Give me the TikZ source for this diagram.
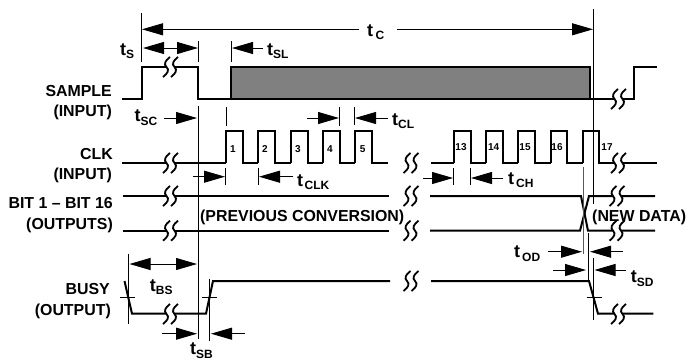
\documentclass[tikz,border=0pt]{standalone}
\usepackage{fontspec}
\setmainfont{Liberation Sans}
\usetikzlibrary{arrows.meta}

\newcommand{\tsub}[2][0pt]{t\kern#1\raisebox{-3.5pt}{\fontsize{12}{13}\selectfont #2}}

\tikzset{
  wave/.style={line width=2pt, line join=miter},
  guide/.style={line width=0.9pt},
  guidegray/.style={line width=1.3pt, black!65},
  dimarrow/.style={line width=0.9pt, {Triangle[length=21pt,width=12pt]}-{Triangle[length=21pt,width=12pt]}},
  dimto/.style={line width=0.9pt, -{Triangle[length=21pt,width=12pt]}},
  siglabel/.style={anchor=east, inner sep=0pt, font=\fontsize{15.9}{17}\bfseries\selectfont},
  notelabel/.style={anchor=west, inner sep=0pt, font=\fontsize{15.9}{17}\bfseries\selectfont},
  timelabel/.style={anchor=base west, inner sep=0pt, font=\fontsize{18}{20}\bfseries\selectfont},
  pulsenum/.style={inner sep=0pt, font=\fontsize{10}{11}\bfseries\selectfont},
  wavebreak/.pic={
    \fill[white] (-4,-6) rectangle (4,6);
    \foreach \dx in {-4,4} {
      \draw[line width=1.8pt] (\dx+3.5,-10) .. controls (\dx-1.5,-6) and (\dx-3,-3) .. (\dx,0)
        .. controls (\dx+3,3) and (\dx+1.5,6) .. (\dx-3.5,10);
    }
  }
}

\begin{document}
\begin{tikzpicture}[x=1pt,y=-1pt]
\useasboundingbox (0,0) rectangle (688,362);

% SAMPLE
\fill[black!50] (231,66.5) rectangle (590,99);
\draw[wave] (122,99) -- (141.5,99) -- (141.5,66.5) -- (198,66.5) -- (198,99) -- (231,99)
  -- (231,66.5) -- (590,66.5) -- (590,99) -- (231,99);
\draw[wave] (590,99) -- (634,99) -- (634,66.5) -- (657,66.5);

% CLK
\draw[wave] (122,163) -- (226,163);
\foreach \a/\b/\c in {226/243/258, 258/275/290.7, 290.7/307.7/323, 323/340/354.7, 354.7/371.7/388} {
  \draw[wave] (\a,163) -- (\a,131) -- (\b,131) -- (\b,163) -- (\c,163);
}
\draw[wave] (431,163) -- (454,163);
\foreach \a/\b/\c in {454/470.7/485.7, 485.7/503/518, 518/535/550.7, 550.7/567/583, 583/599/657} {
  \draw[wave] (\a,163) -- (\a,131) -- (\b,131) -- (\b,163) -- (\c,163);
}
\foreach \x/\n in {233/1, 265/2, 298/3, 330/4, 362.7/5} {
  \node[pulsenum] (pulse\n) at (\x,149) {\n};
}
\foreach \x/\n in {461/13, 493.7/14, 525/15, 557/16, 607/17} {
  \node[pulsenum] (pulse\n) at (\x,147) {\n};
}

% BIT 1 - BIT 16
\draw[wave] (122.7,196) -- (388.7,196);
\draw[wave] (122.7,230.7) -- (388.7,230.7);
\draw[wave] (430,196) -- (581,196) -- (588,230.7) -- (655,230.7);
\draw[wave] (430,230.7) -- (580,230.7) -- (589,196) -- (655,196);

% BUSY
\draw[wave] (124.5,281) -- (132,313.7) -- (206,313.7) -- (213,281) -- (390,281);
\draw[wave] (431,281) -- (589,281) -- (598,313.7) -- (653.3,313.7);

% breaks
\foreach \x/\y in {170.5/67, 170.5/163, 170.5/196, 170.5/230.7, 170.5/314,
  618.5/99, 618.5/163, 617/196, 617/230.7, 618.5/314,
  411/163, 411/196, 411/230.7, 411/281} {
  \pic at (\x,\y) {wavebreak};
}

% guides
\draw[guide] (141,13) -- (141,62);
\draw[guide] (198,41) -- (198,62);
\draw[guide] (231,41) -- (231,62);
\draw[guide] (198,106) -- (198,339);
\draw[guide] (593.5,9) -- (593.5,204);
\draw[guide] (593.5,258) -- (593.5,320);
\draw[guide] (226,107) -- (226,126);
\draw[guide] (339.3,107) -- (339.3,126);
\draw[guide] (354.7,107) -- (354.7,125);
\draw[guide] (225.7,168) -- (225.7,185);
\draw[guide] (258,168) -- (258,185);
\draw[guide] (453.7,168) -- (453.7,185);
\draw[guide] (470,168) -- (470,185);
\draw[guidegray] (583.5,167) -- (583.5,254);
\draw[guide] (588.7,233) -- (588.7,282);
\draw[guide] (128,253.7) -- (128,324);
\draw[guide] (120,297.7) -- (135,297.7);
\draw[guide] (202,297.7) -- (217,297.7);
\draw[guide] (209,279) -- (209,341);
\draw[guide] (586.7,297.7) -- (601.7,297.7);

% times
\draw[dimto] (359,29.3) -- (142,29.3);
\draw[dimto] (397,29.3) -- (593,29.3);
\draw[dimarrow] (143,48) -- (198,48);
\draw[dimto] (263,48) -- (232,48);
\draw[dimto] (164,118) -- (197,118);
\draw[dimto] (307,118) -- (339,118);
\draw[dimto] (388,118) -- (355,118);
\draw[dimto] (193,176.7) -- (225,176.7);
\draw[dimto] (293,176.7) -- (259,176.7);
\draw[dimto] (423,178) -- (453,178);
\draw[dimto] (503,178) -- (471,178);
\draw[dimarrow] (129.5,264) -- (197,264);
\draw[dimto] (162,333.7) -- (197,333.7);
\draw[dimto] (245,333.7) -- (211,333.7);
\draw[dimto] (548,251.7) -- (582,251.7);
\draw[dimto] (623,251.7) -- (590,251.7);
\draw[dimto] (553,270) -- (586,270);
\draw[dimto] (625.7,270) -- (594.5,270);

% time labels
\node[timelabel] (tc) at (367,36) {\tsub[2.5pt]{C}};
\node[timelabel] (ts) at (120,55) {\tsub{S}};
\node[timelabel] (tsl) at (267,55) {\tsub{SL}};
\node[timelabel] (tsc) at (134.5,121.7) {\tsub{SC}};
\node[timelabel] (tcl) at (392,125) {\tsub{CL}};
\node[timelabel] (tclk) at (297,186) {\tsub[1.5pt]{CLK}};
\node[timelabel] (tch) at (508,184) {\tsub[2pt]{CH}};
\node[timelabel] (tbs) at (149.7,291) {\tsub{BS}};
\node[timelabel] (tsb) at (190,354.5) {\tsub{SB}};
\node[timelabel] (tod) at (514,257.7) {\tsub[2pt]{OD}};
\node[timelabel] (tsd) at (630.7,282.7) {\tsub{SD}};

% signal labels
\node[siglabel] (sample) at (112,91) {SAMPLE};
\node[siglabel] (sampleio) at (112,112) {(INPUT)};
\node[siglabel] (clk) at (113,154) {CLK};
\node[siglabel] (clkio) at (112,175) {(INPUT)};
\node[siglabel] (bits) at (113,203) {BIT 1 – BIT 16};
\node[siglabel] (bitsio) at (113,225) {(OUTPUTS)};
\node[siglabel] (busy) at (110,289) {BUSY};
\node[siglabel] (busyio) at (111,311) {(OUTPUT)};
\node[notelabel] (prevconv) at (200,217) {(PREVIOUS CONVERSION)};
\node[notelabel] (newdata) at (592,217) {(NEW DATA)};

\end{tikzpicture}
\end{document}
